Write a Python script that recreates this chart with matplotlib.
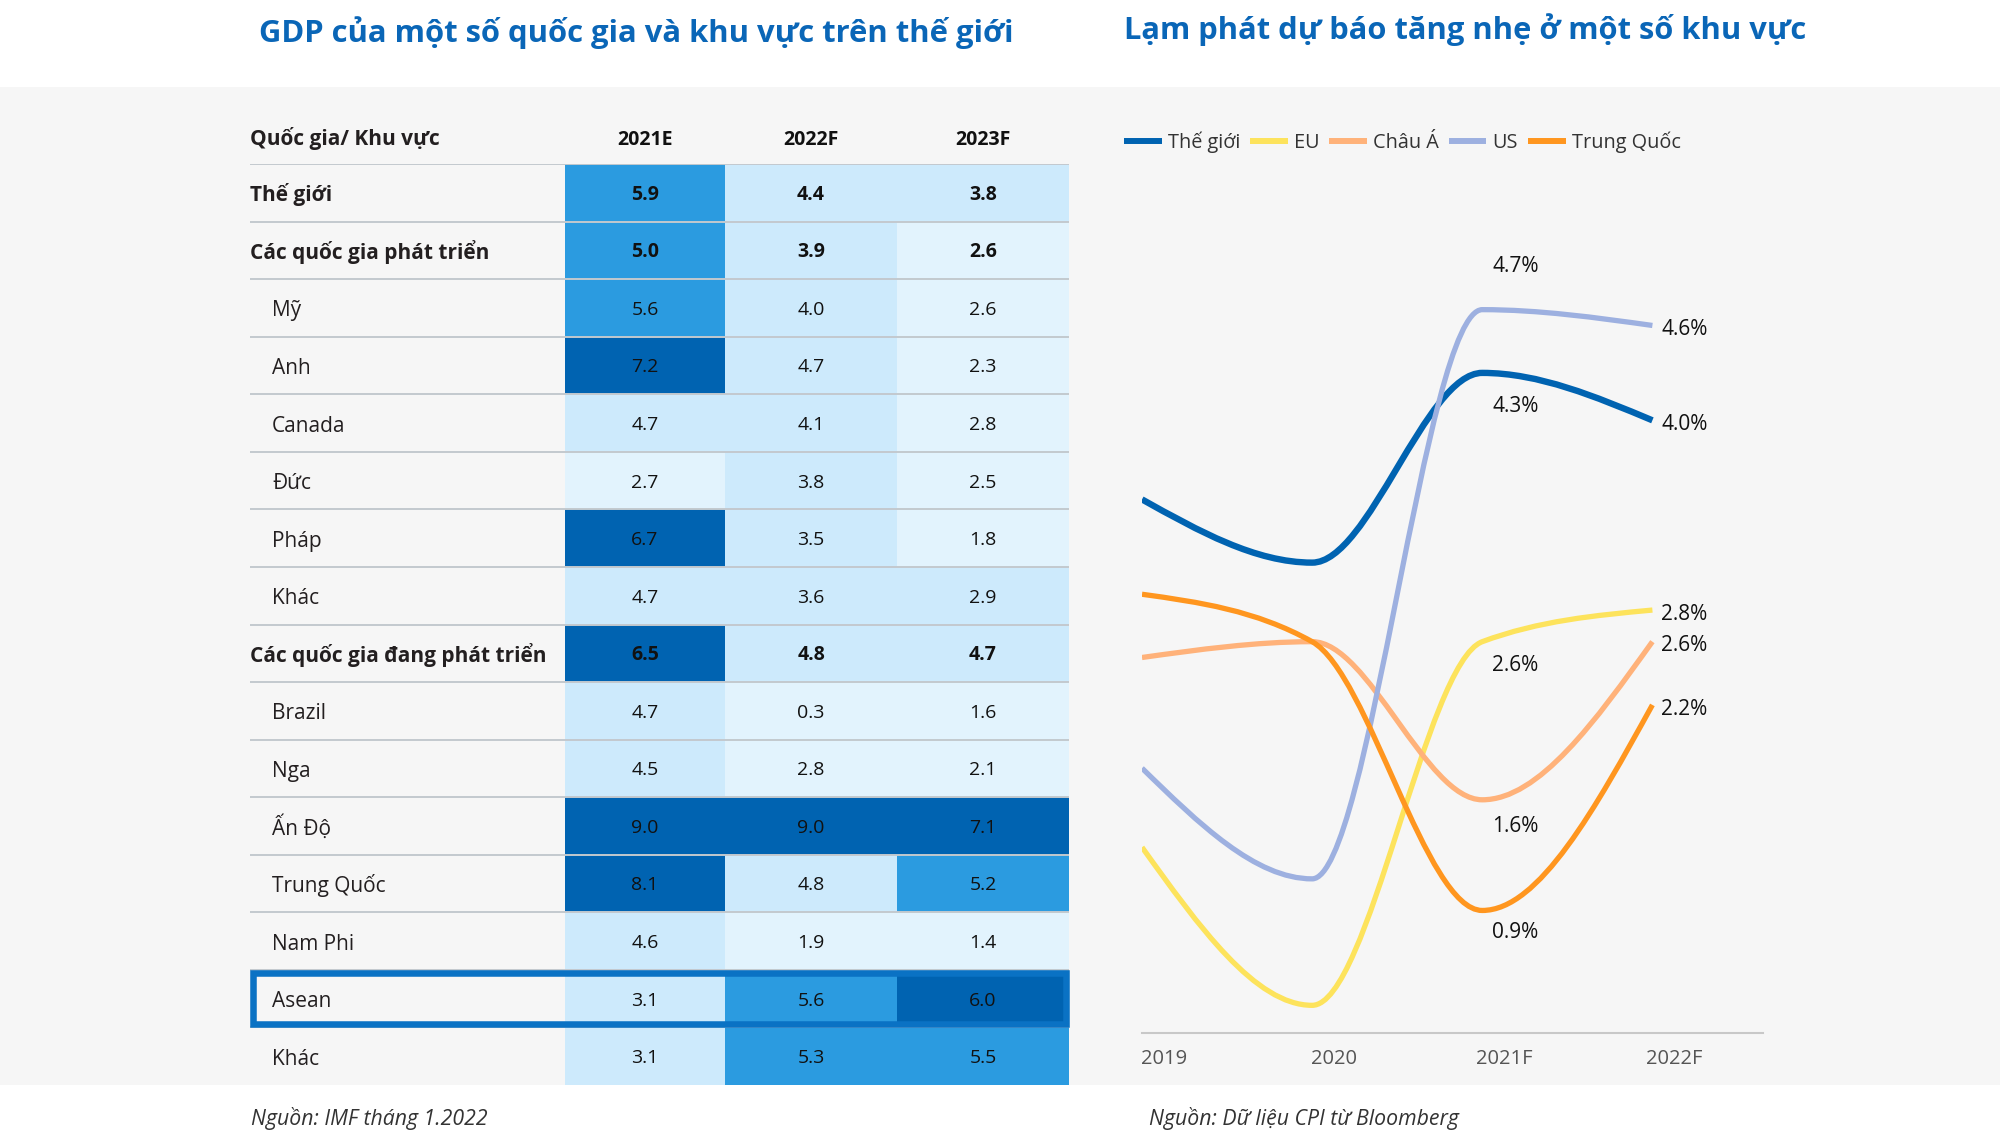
import numpy as np
import matplotlib
matplotlib.use("Agg")
import matplotlib.pyplot as plt
from matplotlib.colors import ListedColormap, BoundaryNorm
from matplotlib.patches import Rectangle, PathPatch
from matplotlib.path import Path
from matplotlib.lines import Line2D
from matplotlib.transforms import ScaledTranslation

plt.rcParams['font.family'] = ['Open Sans', 'DejaVu Sans']

# ---------------- data: GDP table ----------------
table_title = "GDP của một số quốc gia và khu vực trên thế giới"
header_label = "Quốc gia/ Khu vực"
gdp_years = ["2021E", "2022F", "2023F"]
regions = ["Thế giới", "Các quốc gia phát triển", "Mỹ", "Anh", "Canada", "Đức",
           "Pháp", "Khác", "Các quốc gia đang phát triển", "Brazil", "Nga",
           "Ấn Độ", "Trung Quốc", "Nam Phi", "Asean", "Khác"]
is_group = [True, True, False, False, False, False, False, False, True,
            False, False, False, False, False, False, False]
gdp_2021 = [5.9, 5.0, 5.6, 7.2, 4.7, 2.7, 6.7, 4.7, 6.5, 4.7, 4.5, 9.0, 8.1, 4.6, 3.1, 3.1]
gdp_2022 = [4.4, 3.9, 4.0, 4.7, 4.1, 3.8, 3.5, 3.6, 4.8, 0.3, 2.8, 9.0, 4.8, 1.9, 5.6, 5.3]
gdp_2023 = [3.8, 2.6, 2.6, 2.3, 2.8, 2.5, 1.8, 2.9, 4.7, 1.6, 2.1, 7.1, 5.2, 1.4, 6.0, 5.5]
highlight_region = "Asean"
source_left = "Nguồn: IMF tháng 1.2022"

# ---------------- data: inflation lines ----------------
line_title = "Lạm phát dự báo tăng nhẹ ở một số khu vực"
cpi_years = ["2019", "2020", "2021F", "2022F"]
series_names = ["Thế giới", "EU", "Châu Á", "US", "Trung Quốc"]
cpi_world = [3.5, 3.1, 4.3, 4.0]
cpi_eu = [1.3, 0.3, 2.6, 2.8]
cpi_asia = [2.5, 2.6, 1.6, 2.6]
cpi_us = [1.8, 1.1, 4.7, 4.6]
cpi_china = [2.9, 2.6, 0.9, 2.2]
source_right = "Nguồn: Dữ liệu CPI từ Bloomberg"

# ---------------- styles ----------------
TITLE_BLUE = "#0a66b7"
cell_colors = ["#e2f3fd", "#cdeafc", "#2b9be0", "#0063b1"]
cell_bounds = [-1, 2.85, 4.95, 5.95, 20]
col_width_px = [160, 172, 172]          # column widths (layout)
line_colors = ["#0063b1", "#fde35c", "#ffb27a", "#9db0e0", "#ff961f"]
line_widths = [4.6, 3.8, 3.8, 3.8, 3.8]
label_dy_mid = [-24, -17, -19, 31, -16]  # points, label offsets at 2021F

W, H = 2000, 1142
fig = plt.figure(figsize=(W / 100, H / 100), dpi=100)


def fx(px):
    return px / W


def fy(py):
    return 1 - py / H


# background panel
fig.patches.append(Rectangle((0, fy(1085)), 1, (1085 - 87) / H, transform=fig.transFigure,
                             facecolor="#f6f6f6", edgecolor="none", zorder=-10))

# titles
fig.text(fx(636), fy(42), table_title, ha="center", va="baseline", fontsize=22.3,
         fontweight="bold", color=TITLE_BLUE)
fig.text(fx(1465), fy(39), line_title, ha="center", va="baseline", fontsize=22.2,
         fontweight="bold", color=TITLE_BLUE)

# ---------------- table ----------------
tab_left, tab_top, tab_bottom = 250, 164, 1085
val_left = 565
tab_right = val_left + sum(col_width_px)
unit = sum(col_width_px) / 3.0
row_h = (tab_bottom - tab_top) / len(regions)
x0 = -(val_left - tab_left) / unit
x_edges = np.concatenate([[0], np.cumsum(col_width_px)]) / unit
x_mid = (x_edges[:-1] + x_edges[1:]) / 2

ax_t = fig.add_axes([fx(tab_left), fy(tab_bottom), (tab_right - tab_left) / W,
                     (tab_bottom - tab_top) / H])
ax_t.set_xlim(x0, 3)
ax_t.set_ylim(len(regions), 0)
ax_t.axis("off")
ax_t.patch.set_alpha(0)

vals = np.array([gdp_2021, gdp_2022, gdp_2023]).T
cmap = ListedColormap(cell_colors)
norm = BoundaryNorm(cell_bounds, cmap.N)
ax_t.pcolormesh(x_edges, np.arange(len(regions) + 1), vals, cmap=cmap, norm=norm,
                edgecolor="none", zorder=1)
ax_t.hlines(np.arange(0, len(regions)), x0, 3, color="#c3c9ce", lw=1.4, zorder=2)

fs_lab, fs_val = 15, 14
cap_lab = 0.714 * fs_lab / 2
cap_val = 0.714 * fs_val / 2
# header
ax_t.annotate(header_label, (x0, -0.455), xytext=(0, -cap_lab), textcoords="offset points",
              ha="left", va="baseline", fontsize=fs_lab, fontweight="bold", color="#231f20",
              annotation_clip=False)
for j, yr in enumerate(gdp_years):
    ax_t.annotate(yr, (x_mid[j], -0.455), xytext=(0, -cap_val), textcoords="offset points",
                  ha="center", va="baseline", fontsize=fs_val, fontweight="bold",
                  color="#111111", annotation_clip=False)

for i, name in enumerate(regions):
    wt = "bold" if is_group[i] else "normal"
    indent = 0 if is_group[i] else 16
    ax_t.annotate(name, (x0, i + 0.5), xytext=(indent, -cap_lab - 0.8),
                  textcoords="offset points", ha="left", va="baseline", fontsize=fs_lab,
                  fontweight=wt, color="#231f20", zorder=4)
    for j in range(3):
        ax_t.annotate(f"{vals[i, j]:.1f}", (x_mid[j], i + 0.5), xytext=(0, -cap_val),
                      textcoords="offset points", ha="center", va="baseline",
                      fontsize=fs_val, fontweight=wt, color="#111111", zorder=4)

hi = regions.index(highlight_region)
ix = 3.25 / unit
iy = 3.25 / row_h
ax_t.add_patch(Rectangle((x0 + ix, hi + iy), 3 - x0 - 2 * ix, 1 - 2 * iy, fill=False,
                         edgecolor="#0a72c4", lw=4.7, zorder=5, clip_on=False))

fig.text(fx(251), fy(1125), source_left, ha="left", va="baseline", fontsize=15.3,
         style="italic", color="#333333")

# ---------------- line chart ----------------
ax_l = fig.add_axes([fx(1142), fy(1033), (1763 - 1142) / W, (1033 - 180) / H])
ax_l.patch.set_alpha(0)
ax_l.set_xlim(0, 3.65)
ax_l.set_ylim(0.125, 5.52)
for s in ["top", "right", "left"]:
    ax_l.spines[s].set_visible(False)
ax_l.spines["bottom"].set_color("#c8c8c8")
ax_l.spines["bottom"].set_linewidth(1.5)
ax_l.set_yticks([])
xs = np.arange(len(cpi_years))
ax_l.set_xticks(xs)
ax_l.set_xticklabels(cpi_years)
ax_l.tick_params(axis="x", length=0, labelsize=14.5, labelcolor="#555555", pad=11.5)
for lab in ax_l.get_xticklabels():
    lab.set_transform(lab.get_transform() + ScaledTranslation(0.22, 0, fig.dpi_scale_trans))


def monotone_path(xv, yv):
    xv = np.asarray(xv, float)
    yv = np.asarray(yv, float)
    n = len(xv)
    h = np.diff(xv)
    s = np.diff(yv) / h
    t = np.zeros(n)
    for k in range(1, n - 1):
        h0, h1 = h[k - 1], h[k]
        s0, s1 = s[k - 1], s[k]
        p = (s0 * h1 + s1 * h0) / (h0 + h1)
        t[k] = (np.sign(s0) + np.sign(s1)) * min(abs(s0), abs(s1), 0.5 * abs(p))
    t[0] = (3 * s[0] - t[1]) / 2
    t[-1] = (3 * s[-1] - t[-2]) / 2
    verts = [(xv[0], yv[0])]
    codes = [Path.MOVETO]
    for k in range(n - 1):
        d = h[k] / 3
        verts += [(xv[k] + d, yv[k] + d * t[k]), (xv[k + 1] - d, yv[k + 1] - d * t[k + 1]),
                  (xv[k + 1], yv[k + 1])]
        codes += [Path.CURVE4] * 3
    return Path(verts, codes)


series = [cpi_world, cpi_eu, cpi_asia, cpi_us, cpi_china]
handles = []
for k, ys in enumerate(series):
    ax_l.add_patch(PathPatch(monotone_path(xs, ys), fill=False, edgecolor=line_colors[k],
                             lw=line_widths[k], capstyle="butt", joinstyle="round",
                             zorder=3 + k))
    handles.append(Line2D([], [], color=line_colors[k], lw=4.3, solid_capstyle="butt"))
    ax_l.annotate(f"{ys[2]:.1f}%", (xs[2], ys[2]), xytext=(24, label_dy_mid[k]),
                  textcoords="offset points", ha="center", va="center", fontsize=15,
                  color="#111111")
    ax_l.annotate(f"{ys[3]:.1f}%", (xs[3], ys[3]), xytext=(6.5, -3),
                  textcoords="offset points", ha="left", va="center", fontsize=15,
                  color="#111111", annotation_clip=False)

fig.legend(handles, series_names, loc="center left", bbox_to_anchor=(fx(1124), fy(142)),
           ncol=5, frameon=False, fontsize=14.3, handlelength=1.9, handletextpad=0.3,
           columnspacing=0.5, borderpad=0, borderaxespad=0, labelcolor="#333333")

fig.text(fx(1149), fy(1125), source_right, ha="left", va="baseline", fontsize=15.3,
         style="italic", color="#333333")

fig.savefig("out.png", dpi=100)
